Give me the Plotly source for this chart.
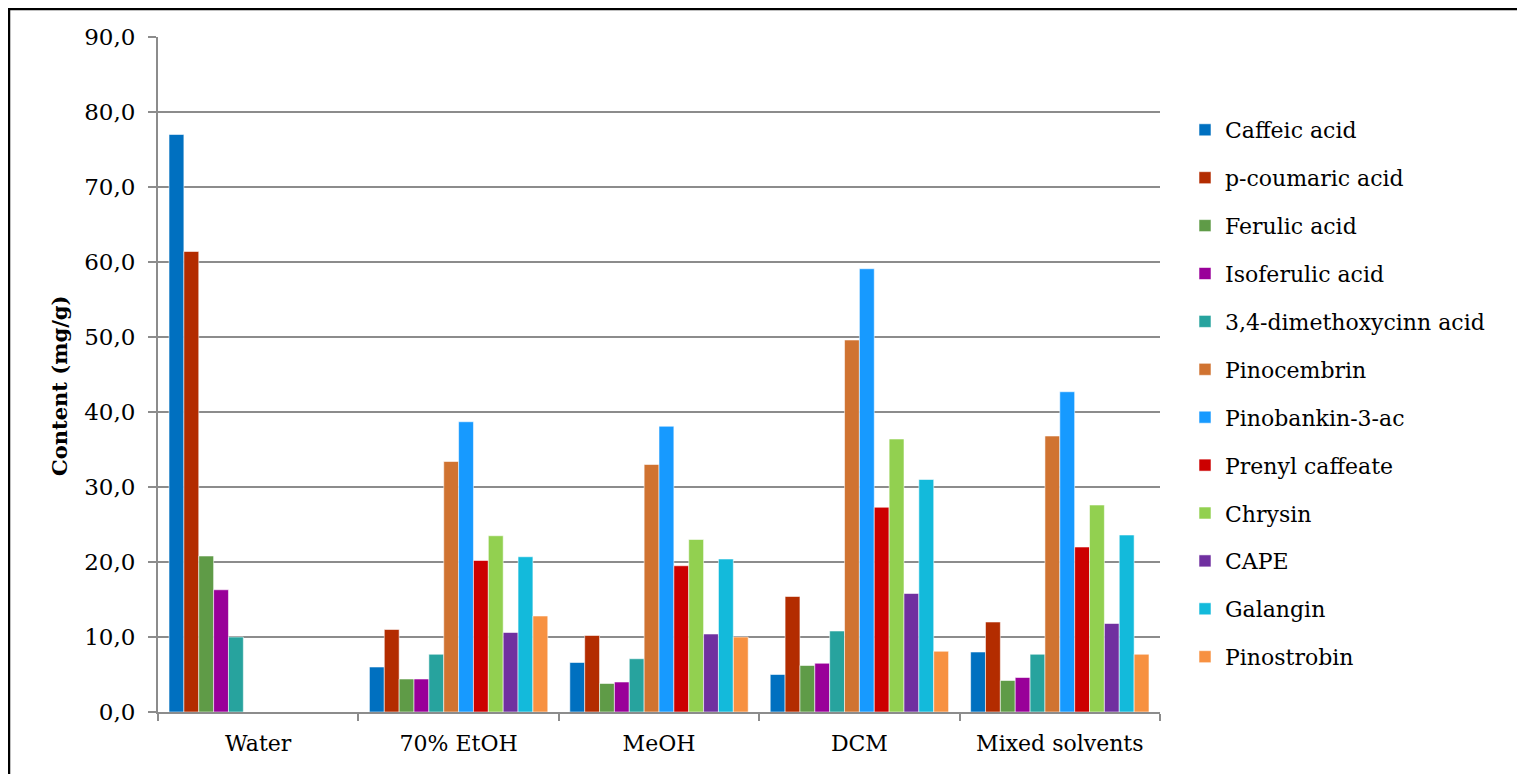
import plotly.graph_objects as go

categories = ["Water", "70% EtOH", "MeOH", "DCM", "Mixed solvents"]

caffeic_acid = [77.0, 6.0, 6.6, 5.0, 8.0]
p_coumaric_acid = [61.4, 11.0, 10.2, 15.4, 12.0]
ferulic_acid = [20.8, 4.4, 3.8, 6.2, 4.2]
isoferulic_acid = [16.3, 4.4, 4.0, 6.5, 4.6]
dimethoxycinn_acid = [10.0, 7.7, 7.1, 10.8, 7.7]
pinocembrin = [0.0, 33.4, 33.0, 49.6, 36.8]
pinobankin_3_ac = [0.0, 38.7, 38.1, 59.1, 42.7]
prenyl_caffeate = [0.0, 20.2, 19.5, 27.3, 22.0]
chrysin = [0.0, 23.5, 23.0, 36.4, 27.6]
cape = [0.0, 10.6, 10.4, 15.8, 11.8]
galangin = [0.0, 20.7, 20.4, 31.0, 23.6]
pinostrobin = [0.0, 12.8, 10.0, 8.1, 7.7]

series_names = ["Caffeic acid", "p-coumaric acid", "Ferulic acid", "Isoferulic acid",
                "3,4-dimethoxycinn acid", "Pinocembrin", "Pinobankin-3-ac",
                "Prenyl caffeate", "Chrysin", "CAPE", "Galangin", "Pinostrobin"]
series_values = [caffeic_acid, p_coumaric_acid, ferulic_acid, isoferulic_acid,
                 dimethoxycinn_acid, pinocembrin, pinobankin_3_ac, prenyl_caffeate,
                 chrysin, cape, galangin, pinostrobin]
series_colors = ["#0070C0", "#B32C00", "#5F9B47", "#990099", "#27A39E", "#D07331",
                 "#179AFF", "#CC0000", "#92D050", "#7030A0", "#13BADB", "#F79141"]

y_ticks = [0, 10, 20, 30, 40, 50, 60, 70, 80, 90]
y_title = "Content (mg/g)"

FONT = "DejaVu Serif"
GRID = "#8C8C8C"

fig = go.Figure()
for i, (name, vals, col) in enumerate(zip(series_names, series_values, series_colors)):
    fig.add_trace(go.Bar(
        x=categories, y=vals, name=name, legendgroup=f"g{i}",
        marker=dict(color=col, line=dict(color="rgba(255,255,255,0.55)", width=1)),
    ))

# page offset of the figure (body margin)
OFF = 8
W, H = 1525 - OFF, 774 - OFF
# plot area in page pixels
L, R, T, B = 158, 1160, 37, 712
pw, ph = R - L, B - T

def px_x(x):
    return (x - L) / pw

def px_y(y):
    return (B - y) / ph

fig.update_layout(
    width=W, height=H,
    margin=dict(l=L - OFF, r=W - (R - OFF), t=T - OFF, b=H - (B - OFF), autoexpand=False),
    paper_bgcolor="white", plot_bgcolor="white",
    barmode="group", bargap=0.11, bargroupgap=0,
    separators=",.",
    font=dict(family=FONT, size=22, color="#000000"),
    legend=dict(
        x=px_x(1185), y=px_y(109), xanchor="left", yanchor="top",
        font=dict(family=FONT, size=22, color="#000000"),
        traceorder="grouped", tracegroupgap=16.3,
        bgcolor="rgba(0,0,0,0)",
    ),
    xaxis=dict(
        showline=True, linecolor=GRID, linewidth=2,
        ticks="outside", tickson="boundaries", ticklen=7, tickwidth=2, tickcolor=GRID,
        showgrid=False, tickfont=dict(family=FONT, size=22),
        ticklabelstandoff=11,
    ),
    yaxis=dict(
        range=[0, 90], tickvals=y_ticks, tickformat=".1f",
        showline=True, linecolor=GRID, linewidth=2,
        ticks="outside", ticklen=8, tickwidth=2, tickcolor=GRID,
        showgrid=True, gridcolor=GRID, gridwidth=2,
        zeroline=False,
        tickfont=dict(family=FONT, size=23),
        ticklabelstandoff=8,
    ),
    annotations=[dict(
        text=f"<b>{y_title}</b>", xref="paper", yref="paper",
        x=px_x(60), y=px_y(386), xanchor="center", yanchor="middle",
        textangle=-90, showarrow=False,
        font=dict(family=FONT, size=21, color="#000000"),
    )],
    shapes=[dict(
        type="rect", xref="paper", yref="paper",
        x0=px_x(9), x1=px_x(1545), y0=px_y(800), y1=px_y(9),
        line=dict(color="black", width=2.5), fillcolor="rgba(0,0,0,0)", layer="above",
    )],
)

fig.write_html("out.html")
